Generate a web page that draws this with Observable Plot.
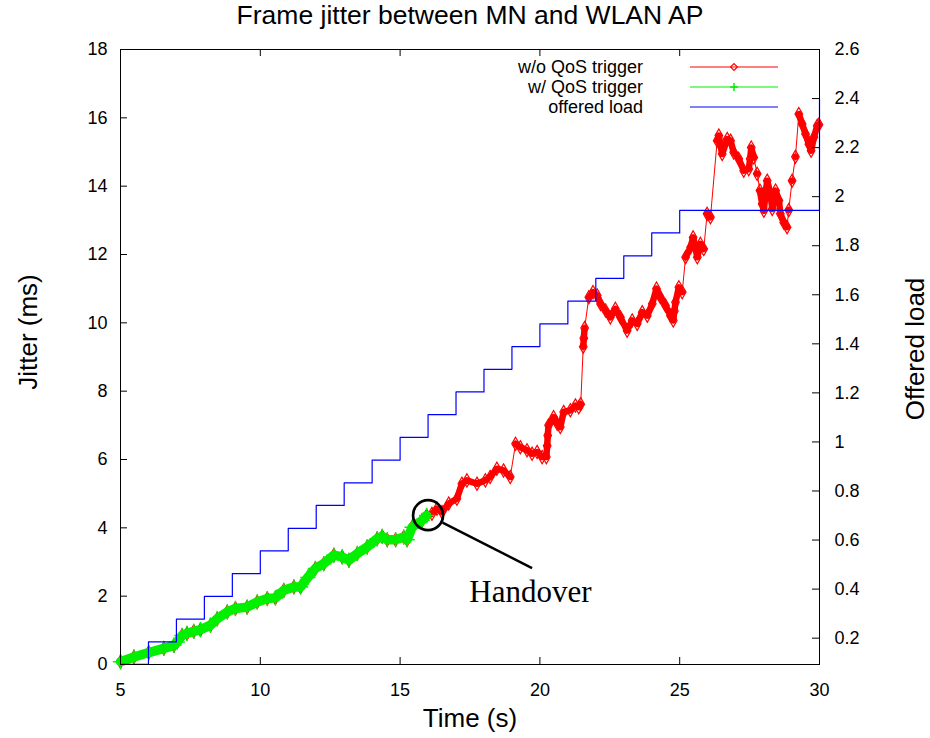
<!DOCTYPE html>
<html>
<head>
<meta charset="utf-8">
<script src="https://cdn.jsdelivr.net/npm/d3@7"></script>
<script src="https://cdn.jsdelivr.net/npm/@observablehq/plot@0.6"></script>
<style>
  body { margin: 0; background: #fff; }
  #title {
    width: 930px; height: 36px; line-height: 38px; box-sizing: border-box;
    padding-left: 10px; text-align: center; color: #000;
    font: 26.5px "Liberation Sans", Arial, sans-serif;
  }
  #chart svg { display: block; }
</style>
</head>
<body>
<div id="title">Frame jitter between MN and WLAN AP</div>
<div id="chart"></div>
<script>
// Jitter samples up to the handover (both runs coincide here; the QoS-triggered run stops at handover)
const beforeTime = [5.00, 5.48, 6.01, 6.55, 6.91, 7.03, 7.20, 7.38, 7.62, 7.86, 8.22, 8.46, 8.82, 9.11,
  9.53, 9.89, 10.25, 10.54, 10.84, 11.20, 11.44, 11.70, 11.97, 12.27, 12.63, 12.93, 13.17, 13.47,
  13.82, 14.18, 14.36, 14.54, 14.84, 15.13, 15.25, 15.43, 15.79, 15.95];
const beforeJitter = [0.08, 0.22, 0.35, 0.47, 0.56, 0.66, 0.85, 0.91, 0.97, 1.02, 1.15, 1.34, 1.54, 1.64,
  1.68, 1.83, 1.93, 1.95, 2.17, 2.27, 2.27, 2.55, 2.81, 2.95, 3.20, 3.15, 3.05, 3.25,
  3.44, 3.68, 3.75, 3.65, 3.65, 3.73, 3.65, 4.02, 4.22, 4.36];

// Jitter samples after the handover, run without QoS trigger
const afterTime = [16.14, 16.32, 16.50, 16.74, 17.03, 17.21, 17.39, 17.75, 18.05, 18.22, 18.46, 18.70, 18.94,
  19.13, 19.30, 19.54, 19.72, 19.90, 20.08, 20.23, 20.26, 20.28, 20.31, 20.49, 20.62, 20.73, 20.85,
  21.09, 21.27, 21.39, 21.46, 21.55, 21.57, 21.60, 21.75, 21.90, 22.05, 22.17, 22.35, 22.52, 22.70,
  22.88, 23.12, 23.30, 23.48, 23.66, 23.84, 24.02, 24.17, 24.31, 24.49, 24.67, 24.77, 24.81, 24.85,
  24.97, 25.09, 25.21, 25.39, 25.48, 25.56, 25.63, 25.74, 25.86, 25.98, 26.10, 26.34, 26.40, 26.46,
  26.52, 26.70, 26.82, 26.93, 27.11, 27.29, 27.47, 27.52, 27.56, 27.65, 27.77, 27.87, 27.95, 28.01,
  28.06, 28.13, 28.25, 28.31, 28.37, 28.43, 28.55, 28.60, 28.72, 28.84, 28.90, 29.02, 29.14, 29.26,
  29.38, 29.50, 29.62, 29.70, 29.80, 29.92, 29.98];
const afterJitter = [4.41, 4.56, 4.46, 4.71, 4.85, 5.29, 5.39, 5.29, 5.39, 5.49, 5.73, 5.68, 5.49,
  6.46, 6.36, 6.27, 6.17, 6.22, 6.07, 6.07, 6.40, 6.70, 7.00, 7.24, 7.05, 6.95, 7.39,
  7.44, 7.58, 7.53, 7.62, 9.30, 9.55, 9.85, 10.75, 10.90, 10.80, 10.55, 10.36, 10.16, 10.41,
  10.16, 9.77, 10.07, 9.97, 10.31, 10.21, 10.56, 11.00, 10.75, 10.51, 10.21, 10.07, 10.35, 10.60,
  11.04, 10.90, 11.92, 12.21, 12.50, 12.20, 11.92, 12.31, 12.16, 13.19, 13.09, 15.33, 15.48, 15.20,
  14.94, 15.38, 15.33, 14.99, 14.80, 14.45, 14.50, 14.80, 15.13, 14.84, 14.36, 13.87, 13.48, 13.28,
  13.72, 14.16, 13.77, 13.33, 13.60, 13.87, 13.58, 13.19, 12.94, 12.80, 13.30, 14.16, 14.86, 16.11,
  15.82, 15.53, 15.23, 15.04, 15.43, 15.77, 15.80];

// Offered load (right axis), stepping up once per second
const loadTime = [5, 6, 7, 8, 9, 10, 11, 12, 13, 14, 15, 16, 17, 18, 19, 20, 21, 22, 23, 24, 25, 30];
const loadValue = [0.093, 0.185, 0.278, 0.370, 0.463, 0.556, 0.648, 0.741, 0.833, 0.926, 1.019,
  1.111, 1.204, 1.296, 1.389, 1.481, 1.574, 1.667, 1.759, 1.852, 1.944, 2.400];

// Axis ticks
const timeTicks = [5, 10, 15, 20, 25, 30];
const jitterTicks = [0, 2, 4, 6, 8, 10, 12, 14, 16, 18];
const loadTicks = [0.2, 0.4, 0.6, 0.8, 1, 1.2, 1.4, 1.6, 1.8, 2, 2.2, 2.4, 2.6];

// Legend entries
const seriesNames = ["w/o QoS trigger", "w/ QoS trigger", "offered load"];

// Annotation
const handoverLabel = "Handover";
const handoverPoint = {t: 16.0, j: 4.37};
const pointerStart = {t: 16.52, j: 4.15};
const pointerEnd = {t: 19.72, j: 2.82};
const labelPoint = {t: 19.66, j: 2.12};

// Right-axis range, mapped onto the jitter axis
const jitterDomain = [0, 18];
const loadDomain = [0.0926, 2.6];
const toJ = d3.scaleLinear().domain(loadDomain).range(jitterDomain);

const RED = "#ff0000", GREEN = "#00f000", BLUE = "#0000ff";
const W = 930, H = 702;
const M = {top: 13, right: 111, bottom: 74, left: 120};
const tickLen = 7;
const pxPerJ = (H - M.top - M.bottom) / (jitterDomain[1] - jitterDomain[0]);
const pxPerT = (W - M.left - M.right) / (timeTicks[timeTicks.length - 1] - timeTicks[0]);

const before = beforeTime.map((t, i) => ({t, j: beforeJitter[i]}));
const after = afterTime.map((t, i) => ({t, j: afterJitter[i]}));
const withoutQoS = [...before, ...after];
const withQoS = before;
const load = loadTime.map((t, i) => ({t, load: loadValue[i]}));

// Split the run into dense stretches (thick band of markers) and sudden jumps (thin line)
let seg = 0;
const withoutBand = withoutQoS.map((d, i) => {
  if (i > 0 && Math.abs(d.j - withoutQoS[i - 1].j) > 0.47) seg++;
  return {...d, seg};
});

const chart = Plot.plot({
  width: W, height: H,
  marginTop: M.top, marginRight: M.right, marginBottom: M.bottom, marginLeft: M.left,
  x: {domain: [5, 30], axis: null},
  y: {domain: jitterDomain, axis: null},
  style: {fontFamily: "'Liberation Sans', Arial, sans-serif", fontSize: "18px", background: "#fff", color: "#000"},
  marks: [
    // w/o QoS trigger
    Plot.line(withoutQoS, {x: "t", y: "j", stroke: RED, strokeWidth: 1}),
    Plot.line(withoutBand, {x: "t", y: "j", z: "seg", stroke: RED, strokeWidth: 6.5,
      strokeLinecap: "round", strokeLinejoin: "round"}),
    Plot.dot(withoutQoS, {x: "t", y: "j", symbol: "diamond", r: 4, stroke: RED, strokeWidth: 1.2, fill: "none"}),
    // w/ QoS trigger
    Plot.line(withQoS, {x: "t", y: "j", stroke: GREEN, strokeWidth: 9.5,
      strokeLinecap: "round", strokeLinejoin: "round"}),
    Plot.dot(withQoS, {x: "t", y: "j", symbol: "plus", r: 5, stroke: GREEN, strokeWidth: 1.5}),
    // offered load on the right axis
    Plot.line(load, {x: "t", y: d => toJ(d.load), curve: "step-after", stroke: BLUE, strokeWidth: 1.2}),
    // frame and inward ticks
    Plot.frame({stroke: "#000", strokeWidth: 1}),
    Plot.ruleX(timeTicks.slice(1, -1), {x: d => d, y1: 0, y2: tickLen / pxPerJ, stroke: "#000"}),
    Plot.ruleX(timeTicks.slice(1, -1), {x: d => d, y1: 18 - tickLen / pxPerJ, y2: 18, stroke: "#000"}),
    Plot.ruleY(jitterTicks, {y: d => d, x1: 5, x2: 5 + tickLen / pxPerT, stroke: "#000"}),
    Plot.ruleY(loadTicks, {y: d => toJ(d), x1: 30 - tickLen / pxPerT, x2: 30, stroke: "#000"}),
    // tick labels
    Plot.text(timeTicks, {x: d => d, y: d => 0, text: d => String(d), dy: 26, fill: "#000"}),
    Plot.text(jitterTicks, {x: d => 5, y: d => d, text: d => String(d), dx: -13, textAnchor: "end", fill: "#000"}),
    Plot.text(loadTicks, {x: d => 30, y: d => toJ(d), text: d => String(d), dx: 15, textAnchor: "start", fill: "#000"}),
    // axis titles
    Plot.text(["Time (s)"], {frameAnchor: "bottom", text: d => d, dy: 54, lineAnchor: "middle",
      textAnchor: "middle", fontSize: 26, fill: "#000"}),
    Plot.text(["Jitter (ms)"], {frameAnchor: "left", text: d => d, dx: -92, dy: -25, rotate: -90,
      textAnchor: "middle", lineAnchor: "middle", fontSize: 26, fill: "#000"}),
    Plot.text(["Offered load"], {frameAnchor: "right", text: d => d, dx: 96, dy: -8, rotate: -90,
      textAnchor: "middle", lineAnchor: "middle", fontSize: 26, fill: "#000"}),
    // handover annotation
    Plot.dot([handoverPoint], {x: "t", y: "j", r: 15, stroke: "#000", strokeWidth: 2.7, fill: "none"}),
    Plot.link([{a: pointerStart, b: pointerEnd}], {x1: d => d.a.t, y1: d => d.a.j, x2: d => d.b.t, y2: d => d.b.j,
      stroke: "#000", strokeWidth: 2.5}),
    Plot.text([labelPoint], {x: "t", y: "j", text: d => handoverLabel, fontSize: 31,
      fontFamily: "'Liberation Serif', 'Times New Roman', serif", fill: "#000"})
  ]
});

// Key in the top-right corner of the frame
const svg = d3.select(chart);
const frameRight = W - M.right;
const key = svg.append("g").attr("font-size", 18).attr("font-family", "'Liberation Sans', Arial, sans-serif");
const rowY = i => M.top + 18 + i * 20;
const keyText = frameRight - 176, keyX1 = frameRight - 129, keyX2 = frameRight - 41, keyMid = frameRight - 85;
const keyColors = [RED, GREEN, BLUE];
seriesNames.forEach((name, i) => {
  const y = rowY(i);
  key.append("text").attr("x", keyText).attr("y", y).attr("dy", "0.35em")
    .attr("text-anchor", "end").attr("fill", "#000").text(name);
  key.append("line").attr("x1", keyX1).attr("x2", keyX2).attr("y1", y).attr("y2", y)
    .attr("stroke", keyColors[i]).attr("stroke-width", 1.2);
});
key.append("path").attr("d", d3.symbol(d3.symbolDiamond2, 30)())
  .attr("transform", `translate(${keyMid},${rowY(0)})`).attr("fill", "none").attr("stroke", RED).attr("stroke-width", 1.2);
key.append("path").attr("d", `M${keyMid - 4},${rowY(1)}h8M${keyMid},${rowY(1) - 4}v8`)
  .attr("stroke", GREEN).attr("stroke-width", 1.5);

document.getElementById("chart").append(chart);
</script>
</body>
</html>
